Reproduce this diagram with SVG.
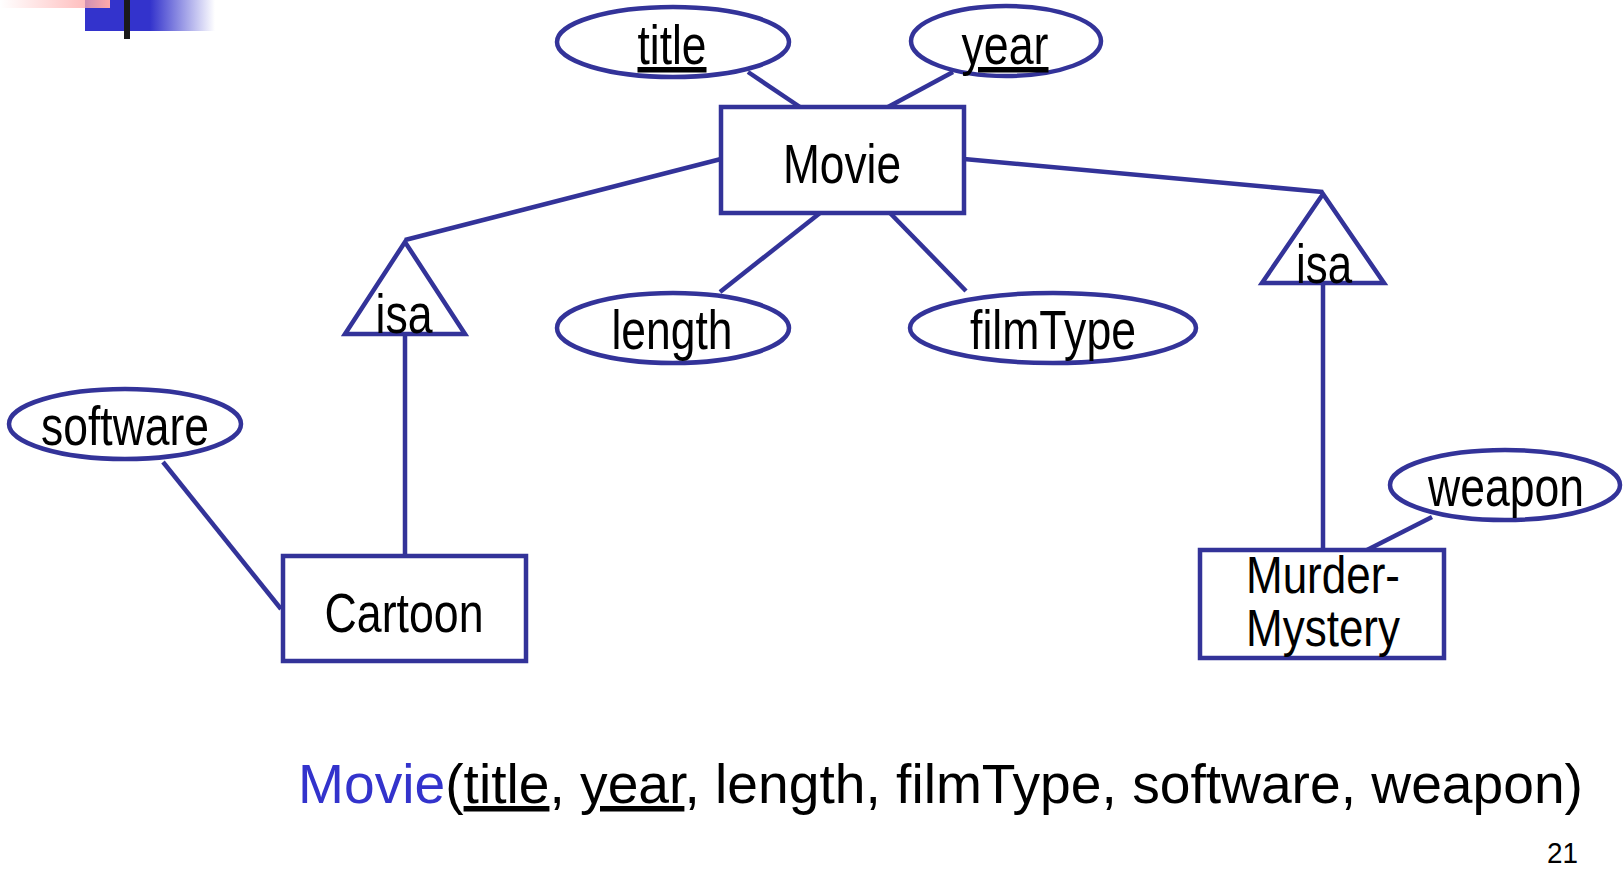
<svg xmlns="http://www.w3.org/2000/svg" width="1624" height="888" viewBox="0 0 1624 888">
<style>
.s{fill:none;stroke:#333399;stroke-width:4.5}
.n{fill:#fff;stroke:#333399;stroke-width:4.5}
.t{font-family:"Liberation Sans",Arial,sans-serif;font-size:55px;fill:#000;text-anchor:middle}
.b{font-family:"Liberation Sans",Tahoma,Arial,sans-serif;font-size:55px;fill:#000}
</style>
<defs>
<linearGradient id="gb" x1="85" y1="0" x2="215" y2="0" gradientUnits="userSpaceOnUse">
<stop offset="0" stop-color="#3333cc"/>
<stop offset="0.5" stop-color="#3333cc"/>
<stop offset="1" stop-color="#3333cc" stop-opacity="0"/>
</linearGradient>
<linearGradient id="gp" x1="0" y1="0" x2="110" y2="0" gradientUnits="userSpaceOnUse">
<stop offset="0" stop-color="#ffb0b0" stop-opacity="0"/>
<stop offset="1" stop-color="#ffaaaa"/>
</linearGradient>
</defs>
<rect width="1624" height="888" fill="#fff"/>
<g id="deco">
<rect x="85" y="0" width="130" height="31" fill="url(#gb)"/>
<rect x="0" y="0" width="110" height="8" fill="url(#gp)"/>
<rect x="124" y="0" width="6" height="39" fill="#1a1a1a"/>
</g>
<g id="connectors" class="s">
<line x1="748" y1="72" x2="800" y2="107"/>
<line x1="953" y1="72" x2="888" y2="107"/>
<line x1="721" y1="159" x2="405" y2="240"/>
<line x1="964" y1="159" x2="1323" y2="192"/>
<line x1="405" y1="334" x2="405" y2="556"/>
<line x1="163" y1="462" x2="281" y2="609"/>
<line x1="820" y1="213" x2="720" y2="292"/>
<line x1="890" y1="213" x2="966" y2="291"/>
<line x1="1323" y1="283" x2="1323" y2="550"/>
<line x1="1432" y1="517" x2="1367" y2="550"/>
</g>
<g id="title"><ellipse class="n" cx="673" cy="42" rx="116" ry="35"/><text class="t" x="672" y="64" textLength="69" lengthAdjust="spacingAndGlyphs" text-decoration="underline">title</text></g>
<g id="year"><ellipse class="n" cx="1006" cy="41" rx="95" ry="35"/><text class="t" x="1005" y="64" textLength="87" lengthAdjust="spacingAndGlyphs" text-decoration="underline">year</text></g>
<g id="movie"><rect class="n" x="721" y="107" width="243" height="106"/><text class="t" x="842" y="183" textLength="118" lengthAdjust="spacingAndGlyphs">Movie</text></g>
<g id="isa-left"><polygon class="n" points="405,242 345,334 465,334"/><text class="t" x="404" y="333" textLength="57" lengthAdjust="spacingAndGlyphs">isa</text></g>
<g id="isa-right"><polygon class="n" points="1323,194 1262,283 1384,283"/><text class="t" x="1324" y="283" textLength="56" lengthAdjust="spacingAndGlyphs">isa</text></g>
<g id="length"><ellipse class="n" cx="673" cy="328" rx="116" ry="35"/><text class="t" x="672" y="349" textLength="121" lengthAdjust="spacingAndGlyphs">length</text></g>
<g id="filmType"><ellipse class="n" cx="1053" cy="328" rx="143" ry="35"/><text class="t" x="1053" y="349" textLength="166" lengthAdjust="spacingAndGlyphs">filmType</text></g>
<g id="software"><ellipse class="n" cx="125" cy="424" rx="116" ry="35"/><text class="t" x="125" y="445" textLength="168" lengthAdjust="spacingAndGlyphs">software</text></g>
<g id="cartoon"><rect class="n" x="283" y="556" width="243" height="105"/><text class="t" x="404" y="632" textLength="159" lengthAdjust="spacingAndGlyphs">Cartoon</text></g>
<g id="weapon"><ellipse class="n" cx="1505" cy="485" rx="115" ry="35"/><text class="t" x="1506" y="506" textLength="156" lengthAdjust="spacingAndGlyphs">weapon</text></g>
<g id="murder-mystery"><rect class="n" x="1200" y="550" width="244" height="108"/><text class="t" x="1323" y="593" style="font-size:51px" textLength="154" lengthAdjust="spacingAndGlyphs">Murder-</text><text class="t" x="1323" y="646" style="font-size:51px" textLength="154" lengthAdjust="spacingAndGlyphs">Mystery</text></g>
<g id="schema">
<text class="b" x="298" y="803" textLength="1285" lengthAdjust="spacingAndGlyphs"><tspan style="fill:#3333cc">Movie</tspan>(<tspan text-decoration="underline">title</tspan>, <tspan text-decoration="underline">year</tspan>, length, filmType, software, weapon)</text>
<text class="b" x="1547" y="863" style="font-size:30px" textLength="31" lengthAdjust="spacingAndGlyphs">21</text>
</g>
</svg>
